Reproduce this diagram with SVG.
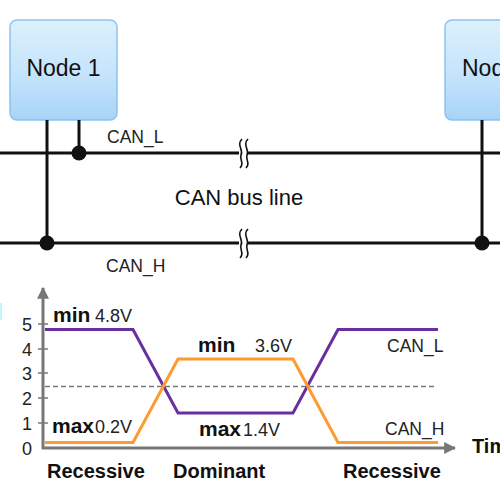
<svg xmlns="http://www.w3.org/2000/svg" width="500" height="500" viewBox="0 0 500 500">
<style>
.node{fill:url(#ng);stroke:#8cc2ee;stroke-width:1.5}
.nt{font-family:"Liberation Sans",Arial,sans-serif;font-size:23px;fill:#111}
.bus{stroke:#111;stroke-width:3;fill:none}
.brk{stroke:#111;stroke-width:1.6;fill:none}
.lbl{font-family:"Liberation Sans",Arial,sans-serif;font-size:17.5px;fill:#222}
.ax{stroke:#777;stroke-width:3;fill:none}
.tk{stroke:#777;stroke-width:1.5}
.num{font-family:"Liberation Sans",Arial,sans-serif;font-size:18px;fill:#222;text-anchor:middle}
.b{font-family:"Liberation Sans",Arial,sans-serif;font-size:21px;font-weight:bold;fill:#111}
.v{font-family:"Liberation Sans",Arial,sans-serif;font-size:18px;fill:#222}
.st{font-family:"Liberation Sans",Arial,sans-serif;font-size:20px;font-weight:bold;fill:#111}
</style>
<defs>
<linearGradient id="ng" x1="0" y1="0" x2="0" y2="1">
<stop offset="0" stop-color="#dcf1fd"/>
<stop offset="0.6" stop-color="#c2e2fb"/>
<stop offset="1" stop-color="#a8d3f6"/>
</linearGradient>
<marker id="arr" viewBox="0 0 10 10" refX="9" refY="5" markerWidth="4" markerHeight="4.5" orient="auto" markerUnits="strokeWidth">
<path d="M0,0 L10,5 L0,10 Z" fill="#777"/>
</marker>
</defs>
<rect x="0" y="303" width="2" height="17" fill="#c4f6f8"/>
<g id="node1">
<rect class="node" x="10" y="20" width="107" height="100" rx="7"/>
<text class="nt" x="63.5" y="76" text-anchor="middle">Node 1</text>
</g>
<g id="node2">
<rect class="node" x="445" y="20" width="107" height="100" rx="7"/>
<text class="nt" x="462" y="76">Node 2</text>
</g>
<g id="connectors">
<line class="bus" x1="0" y1="153" x2="239" y2="153"/>
<line class="bus" x1="248" y1="153" x2="500" y2="153"/>
<line class="bus" x1="0" y1="243" x2="239" y2="243"/>
<line class="bus" x1="248" y1="243" x2="500" y2="243"/>
<path class="brk" d="M242,139 C236,145 244,150 241,155 C239,160 245,163 240,168"/>
<path class="brk" d="M248,139 C242,145 250,150 247,155 C245,160 251,163 246,168"/>
<path class="brk" d="M242,229 C236,235 244,240 241,245 C239,250 245,253 240,258"/>
<path class="brk" d="M248,229 C242,235 250,240 247,245 C245,250 251,253 246,258"/>
<line class="bus" x1="47" y1="120" x2="47" y2="243"/>
<line class="bus" x1="79" y1="120" x2="79" y2="153"/>
<line class="bus" x1="482" y1="120" x2="482" y2="243"/>
<circle cx="79" cy="153" r="7.5" fill="#111"/>
<circle cx="47" cy="243" r="7.5" fill="#111"/>
<circle cx="482" cy="243" r="7.5" fill="#111"/>
</g>
<text class="lbl" x="107" y="143">CAN_L</text>
<text class="lbl" x="106" y="272">CAN_H</text>
<text x="239" y="205" text-anchor="middle" font-family="Liberation Sans,Arial,sans-serif" font-size="22" fill="#111">CAN bus line</text>
<g id="chart">
<line class="ax" x1="43" y1="449" x2="43" y2="288" marker-end="url(#arr)"/>
<line class="ax" x1="42" y1="448" x2="455" y2="448" marker-end="url(#arr)"/>
<line class="tk" x1="38" y1="324" x2="48" y2="324"/>
<line class="tk" x1="38" y1="349" x2="48" y2="349"/>
<line class="tk" x1="38" y1="373" x2="48" y2="373"/>
<line class="tk" x1="38" y1="398" x2="48" y2="398"/>
<line class="tk" x1="38" y1="423" x2="48" y2="423"/>
<text class="num" x="27" y="331">5</text>
<text class="num" x="27" y="356">4</text>
<text class="num" x="27" y="380">3</text>
<text class="num" x="27" y="405">2</text>
<text class="num" x="27" y="430">1</text>
<text class="num" x="27" y="455">0</text>
<line x1="45" y1="386.5" x2="435" y2="386.5" stroke="#777" stroke-width="1.3" stroke-dasharray="5,3"/>
<polyline points="45,329.5 133,329.5 178,413 293,413 338,329.5 438,329.5" fill="none" stroke="#6a2f9e" stroke-width="3"/>
<polyline points="45,442.5 133,442.5 178,359 293,359 338,442.5 438,442.5" fill="none" stroke="#ff9a2e" stroke-width="3"/>
<text class="b" x="53" y="322">min</text>
<text class="v" x="95" y="322">4.8V</text>
<text class="b" x="52" y="433">max</text>
<text class="v" x="95" y="433">0.2V</text>
<text class="b" x="198" y="352">min</text>
<text class="v" x="255" y="352">3.6V</text>
<text class="b" x="199" y="436">max</text>
<text class="v" x="243" y="436">1.4V</text>
<text class="lbl" x="387" y="352">CAN_L</text>
<text class="lbl" x="385" y="435">CAN_H</text>
<text class="st" x="47" y="478">Recessive</text>
<text class="st" x="173" y="478">Dominant</text>
<text class="st" x="343" y="478">Recessive</text>
<text class="st" x="472" y="453">Time</text>
</g>
</svg>
